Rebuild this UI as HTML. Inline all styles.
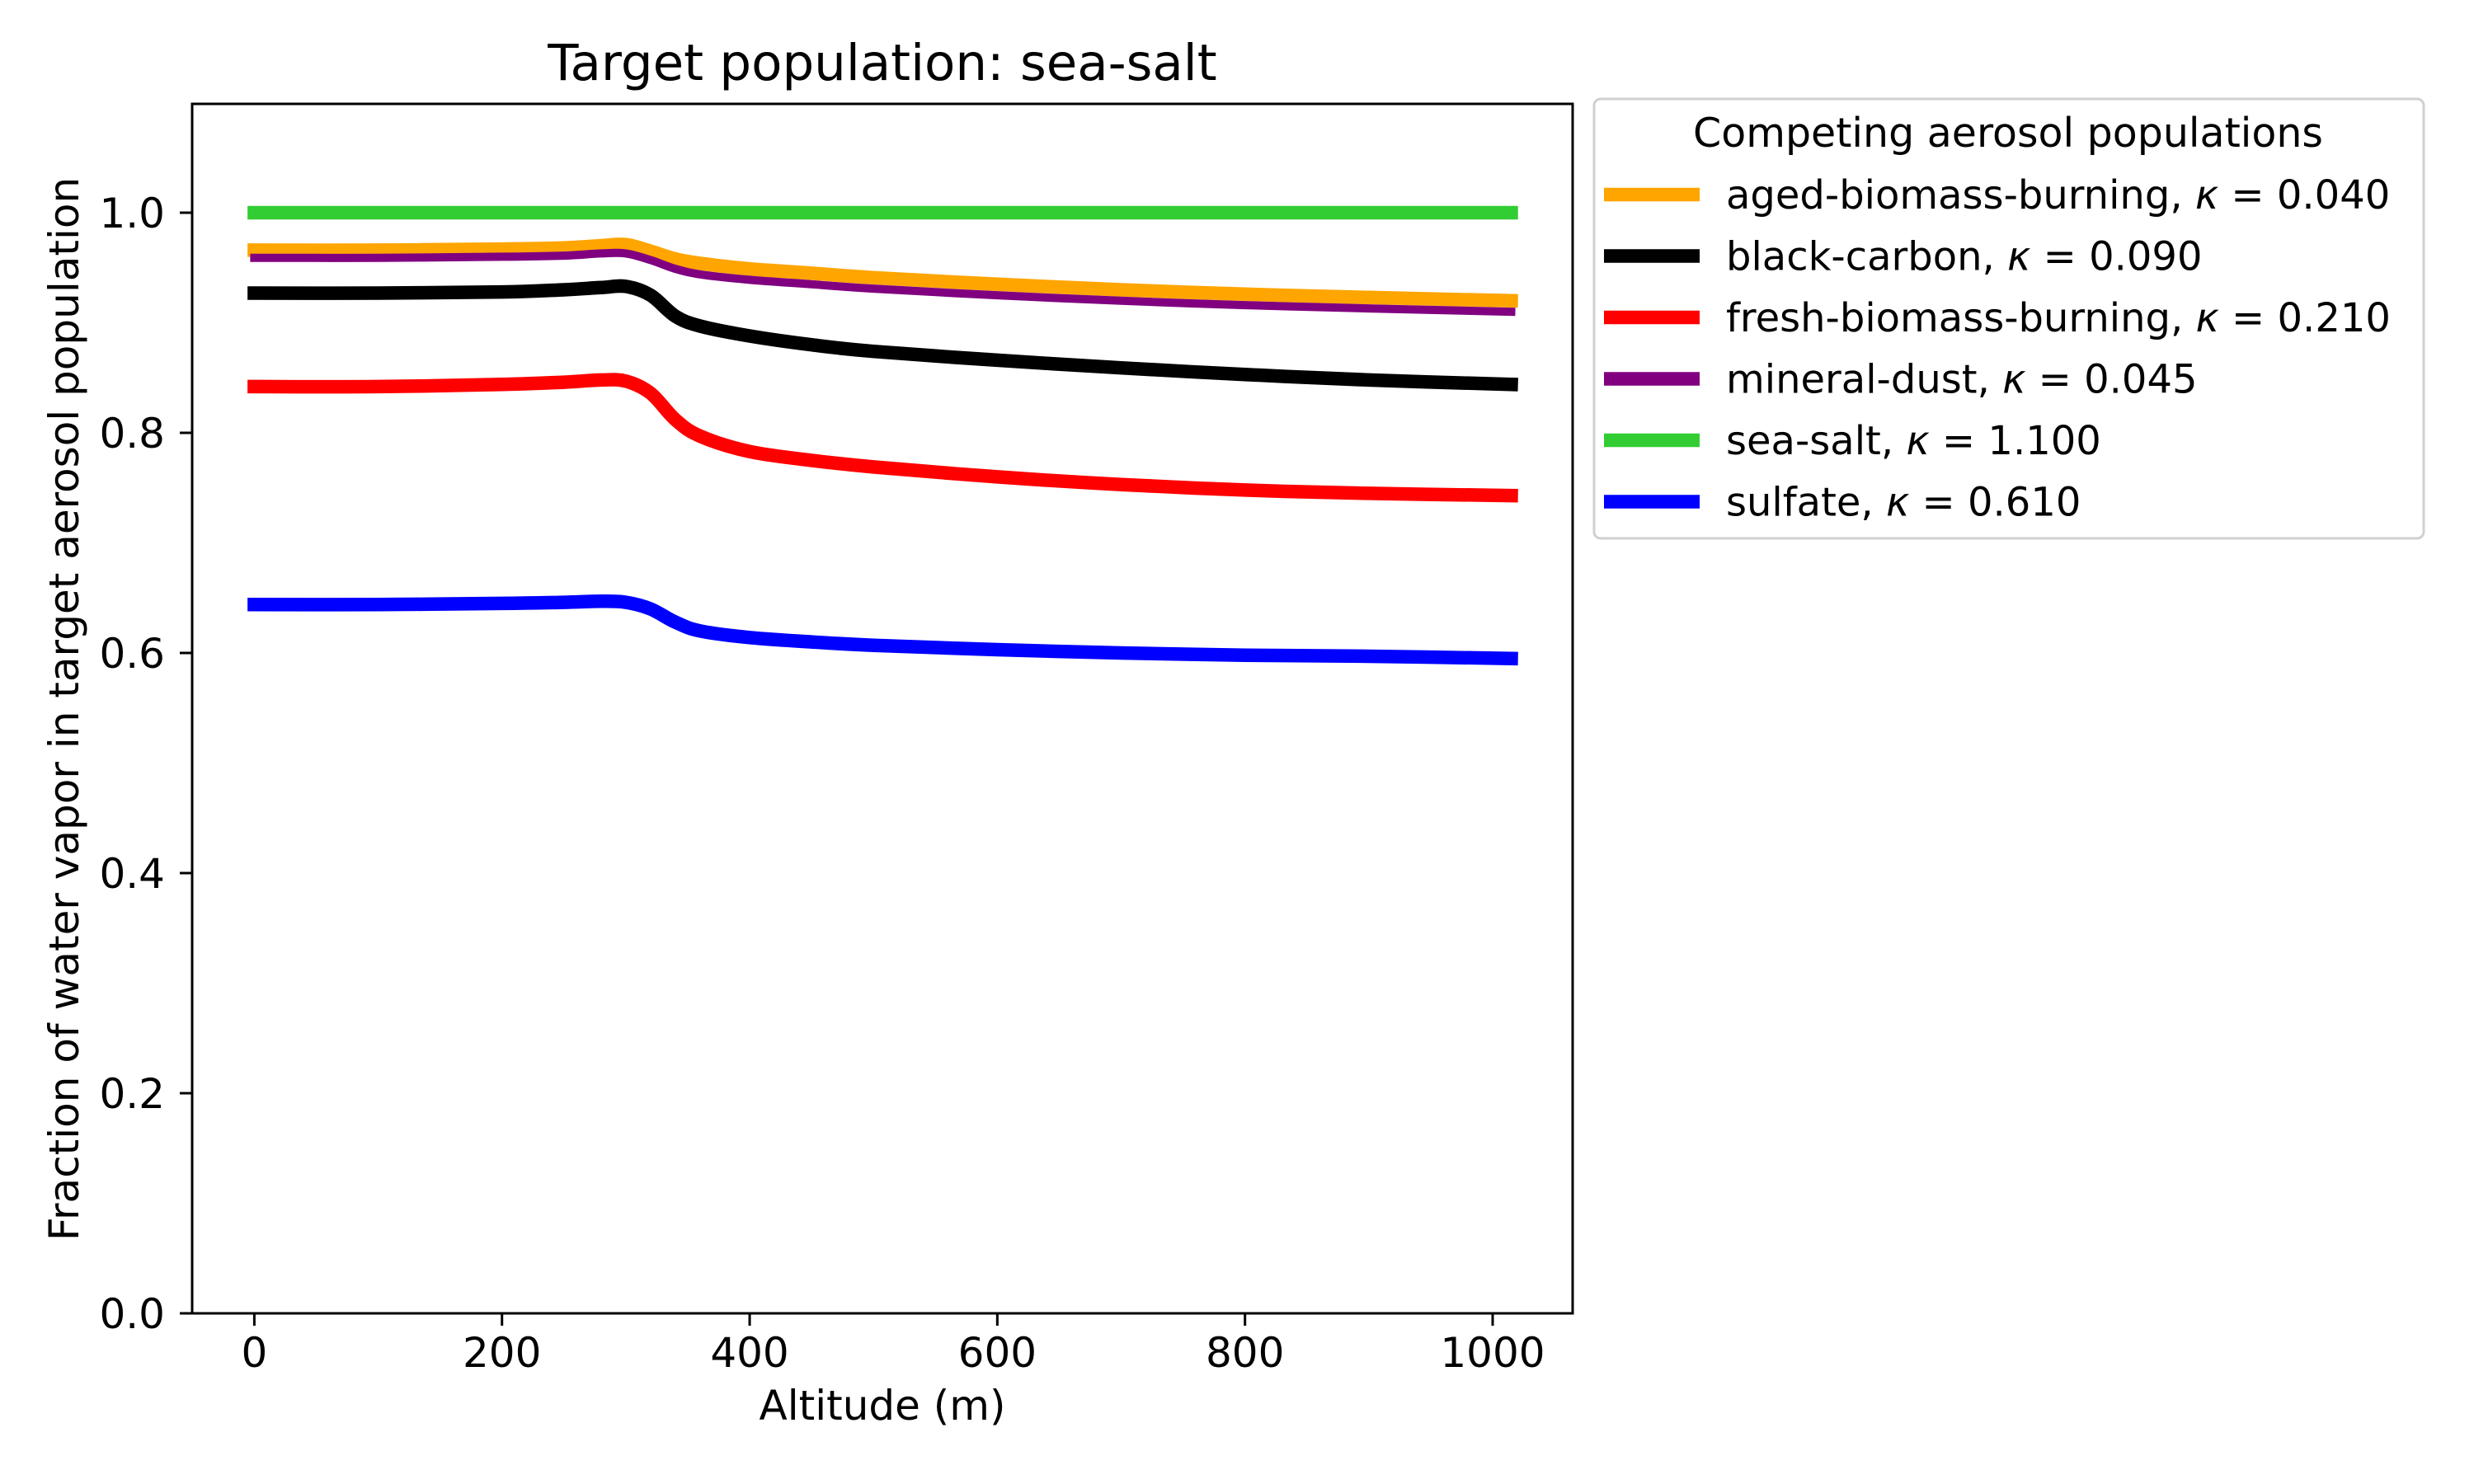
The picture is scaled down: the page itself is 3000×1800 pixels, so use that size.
<!DOCTYPE html>
<html><head><meta charset="utf-8">
<style>
html,body{margin:0;padding:0;background:#fff;}
svg{display:block;font-family:"DejaVu Sans","Liberation Sans",sans-serif;}
</style></head>
<body>
<svg id="chart" width="3000" height="1800" viewBox="0 0 3000 1800" xmlns="http://www.w3.org/2000/svg">
<rect x="0" y="0" width="3000" height="1800" fill="#fff"/>
<g id="series"></g>
<g id="axes"></g>
<text x="1070" y="97" font-size="61" text-anchor="middle">Target population: sea-salt</text>
<text x="1070" y="1722" font-size="50" text-anchor="middle">Altitude (m)</text>
<text transform="translate(95,860) rotate(-90)" font-size="50" text-anchor="middle">Fraction of water vapor in target aerosol population</text>
<g id="legend"></g>
</svg>
<script>
const altitudes = [0,100,200,250,280,300,320,340,360,400,450,500,600,700,800,900,1015];
const agedBiomass = [0.966,0.966,0.967,0.968,0.970,0.971,0.965,0.958,0.954,0.949,0.945,0.941,0.935,0.930,0.926,0.923,0.920];
const blackCarbon = [0.927,0.927,0.928,0.930,0.932,0.933,0.925,0.906,0.897,0.888,0.880,0.874,0.866,0.859,0.853,0.848,0.844];
const freshBiomass = [0.842,0.842,0.844,0.846,0.848,0.847,0.836,0.812,0.797,0.783,0.775,0.769,0.760,0.753,0.748,0.745,0.743];
const mineralDust = [0.959,0.959,0.960,0.961,0.963,0.963,0.957,0.949,0.944,0.939,0.935,0.931,0.925,0.920,0.916,0.913,0.910];
const seaSalt = [1,1,1,1,1,1,1,1,1,1,1,1,1,1,1,1,1];
const sulfate = [0.644,0.644,0.645,0.646,0.647,0.646,0.640,0.628,0.620,0.614,0.610,0.607,0.603,0.600,0.598,0.597,0.595];
const seriesNames = ["aged-biomass-burning","black-carbon","fresh-biomass-burning","mineral-dust","sea-salt","sulfate"];
const kappas = ["0.040","0.090","0.210","0.045","1.100","0.610"];
const xTicks = [0,200,400,600,800,1000];
const yTicks = [0.0,0.2,0.4,0.6,0.8,1.0];

const NS = "http://www.w3.org/2000/svg";
const L=233, R=1907, T=126, B=1593;
const X0=308.4, X1=1810;
function xs(v){return X0 + (X1-X0)*v/1000;}
function ys(v){return B - 1335*v;}
function mk(tag, attrs, parent){const e=document.createElementNS(NS,tag);for(const k in attrs)e.setAttribute(k,attrs[k]);parent.appendChild(e);return e;}
function smoothPath(px,py){
  let d='M'+px[0].toFixed(1)+','+py[0].toFixed(1);
  for(let i=0;i<px.length-1;i++){
    const p0x=px[Math.max(0,i-1)],p0y=py[Math.max(0,i-1)];
    const p3x=px[Math.min(px.length-1,i+2)],p3y=py[Math.min(px.length-1,i+2)];
    const c1x=px[i]+(px[i+1]-p0x)/6,c1y=py[i]+(py[i+1]-p0y)/6;
    const c2x=px[i+1]-(p3x-px[i])/6,c2y=py[i+1]-(p3y-py[i])/6;
    d+=' C'+c1x.toFixed(1)+','+c1y.toFixed(1)+' '+c2x.toFixed(1)+','+c2y.toFixed(1)+' '+px[i+1].toFixed(1)+','+py[i+1].toFixed(1);
  }
  return d;
}

const colors = {"aged-biomass-burning":"#ffa500","black-carbon":"#000000","fresh-biomass-burning":"#ff0000","mineral-dust":"#800080","sea-salt":"#32cd32","sulfate":"#0000ff"};
const widths = {"mineral-dust":10};
const dataMap = {"aged-biomass-burning":agedBiomass,"black-carbon":blackCarbon,"fresh-biomass-burning":freshBiomass,"mineral-dust":mineralDust,"sea-salt":seaSalt,"sulfate":sulfate};
const drawOrder = ["aged-biomass-burning","mineral-dust","black-carbon","fresh-biomass-burning","sea-salt","sulfate"];
const sg = document.getElementById('series');
drawOrder.forEach(n=>{
  const vals = dataMap[n];
  const d = smoothPath(altitudes.map(xs), vals.map(ys));
  const p = mk('path',{d:d,fill:'none',stroke:colors[n],'stroke-width':widths[n]||16.5,'stroke-linecap':'square','stroke-linejoin':'round'},sg);
  
  
});

const ag = document.getElementById('axes');
const frame = mk('rect',{x:L,y:T,width:R-L,height:B-T,fill:'none',stroke:'#000','stroke-width':3},ag);


xTicks.forEach(t=>{
  const x=xs(t);
  const tk = mk('line',{x1:x,y1:B,x2:x,y2:B+15,stroke:'#000','stroke-width':3},ag);
  
  
  const lb = mk('text',{x:x,y:B+65,'font-size':50,'text-anchor':'middle'},ag);
  lb.textContent = String(t);
  
  
});
yTicks.forEach(t=>{
  const y=ys(t);
  const tk = mk('line',{x1:L-15,y1:y,x2:L,y2:y,stroke:'#000','stroke-width':3},ag);
  
  
  const lb = mk('text',{x:200,y:y+18,'font-size':50,'text-anchor':'end'},ag);
  lb.textContent = t.toFixed(1);
  
  
});

const lg = document.getElementById('legend');
const box = mk('rect',{x:1933,y:120,width:1006,height:533,rx:8,fill:'#fff',stroke:'#d0d0d0','stroke-width':3},lg);


const lt = mk('text',{x:2435,y:178,'font-size':49,'text-anchor':'middle'},lg);
lt.textContent = 'Competing aerosol populations';


seriesNames.forEach((n,i)=>{
  const y = 236 + i*74.5;
  const g = mk('g',{},lg);
  
  
  mk('line',{x1:1945,y1:y,x2:2061,y2:y,stroke:colors[n],'stroke-width':16.5},g);
  const tx = mk('text',{x:2093,y:y+17,'font-size':48},g);
  tx.textContent = n+', ';
  const k = mk('tspan',{'font-style':'italic'},tx);
  k.textContent = 'κ';
  const r = mk('tspan',{},tx);
  r.textContent = ' = '+kappas[i];
});
</script>
</body></html>
